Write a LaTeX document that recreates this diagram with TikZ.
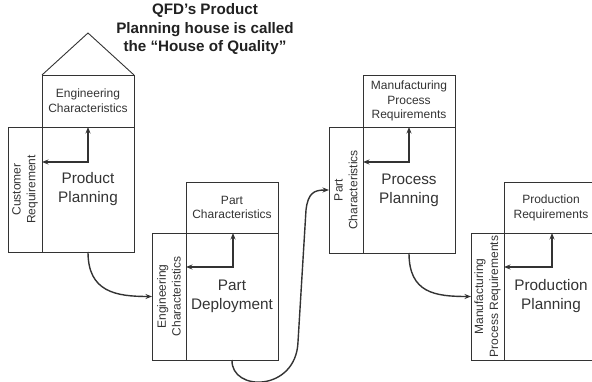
\documentclass[tikz,border=0pt]{standalone}
\usepackage{fontspec}
\setmainfont{Liberation Sans}
\usetikzlibrary{arrows.meta}
\definecolor{ink}{rgb}{0.2,0.2,0.2}
\definecolor{titleink}{rgb}{0.13,0.13,0.13}
\tikzset{
  cell/.style={draw=ink, line width=0.9pt, rectangle, inner sep=0pt, outer sep=0pt, align=center, text=ink},
  smalltxt/.style={font=\fontsize{12}{14.8}\selectfont},
  bigtxt/.style={font=\fontsize{15.3}{19}\selectfont},
  flow/.style={draw=ink, line width=1.4pt, -{Stealth[length=6.5pt,width=5pt]}},
  inner/.style={draw=ink, line width=1.4pt, {Stealth[length=6.5pt,width=5pt]}-{Stealth[length=6.5pt,width=5pt]}},
}
\begin{document}
\begin{tikzpicture}[x=1pt,y=-1pt]
\useasboundingbox (0,0) rectangle (592,382);
% title
\node[font=\bfseries\fontsize{15.2}{18.5}\selectfont, text=titleink, align=center] (title) at (205,29.5)
  {QFD’s Product\\Planning house is called\\the “House of Quality”};
% Block 1
\node[cell, smalltxt, minimum width=92pt, minimum height=52pt] (top1) at (88,101) {Engineering\\Characteristics};
\node[cell, smalltxt, rotate=90, minimum width=125pt, minimum height=34pt] (left1) at (25,189.5) {Customer\\Requirement};
\node[cell, bigtxt, minimum width=92pt, minimum height=125pt] (main1) at (88,189.5) {Product\\Planning};
\coordinate (apex) at (88,33);
\draw[ink, line width=0.9pt] (top1.north west) -- (apex) -- (top1.north east);
\coordinate (c1) at (88,162);
\draw[inner] (c1 -| left1.south) -- (c1) -- (c1 |- top1.south);
% Block 2
\node[cell, smalltxt, minimum width=92pt, minimum height=51pt] (top2) at (232,207.5) {Part\\Characteristics};
\node[cell, smalltxt, rotate=90, minimum width=127pt, minimum height=34pt] (left2) at (169,296.5) {Engineering\\Characteristics};
\node[cell, bigtxt, minimum width=92pt, minimum height=127pt] (main2) at (232,296.5) {Part\\Deployment};
\coordinate (c2) at (233,267);
\draw[inner] (c2 -| left2.south) -- (c2) -- (c2 |- top2.south);
% Block 3
\node[cell, smalltxt, minimum width=92pt, minimum height=52pt] (top3) at (409,101) {Manufacturing\\Process\\Requirements};
\node[cell, smalltxt, rotate=90, minimum width=126pt, minimum height=34pt] (left3) at (346,190) {Part\\Characteristics};
\node[cell, bigtxt, minimum width=92pt, minimum height=126pt] (main3) at (409,190) {Process\\Planning};
\coordinate (c3) at (409,162);
\draw[inner] (c3 -| left3.south) -- (c3) -- (c3 |- top3.south);
% Block 4
\node[cell, smalltxt, minimum width=94pt, minimum height=51pt] (top4) at (551,207.5) {Production\\Requirements};
\node[cell, smalltxt, rotate=90, minimum width=127pt, minimum height=33pt] (left4) at (487.5,296.5) {Manufacturing\\Process Requirements};
\node[cell, bigtxt, minimum width=94pt, minimum height=127pt] (main4) at (551,296.5) {Production\\Planning};
\coordinate (c4) at (552,267);
\draw[inner] (c4 -| left4.south) -- (c4) -- (c4 |- top4.south);
% flow connectors
\draw[flow] (main1.south) .. controls +(0,40) and +(-36,0) .. (left2.north);
\draw[flow] (main2.south) .. controls (231,392) and (296,392) .. (298,342) -- (306,210) .. controls (308,193) and (314,190) .. (left3.north);
\draw[flow] (main3.south) .. controls +(0,40) and +(-36,0) .. (left4.north);
\end{tikzpicture}
\end{document}
